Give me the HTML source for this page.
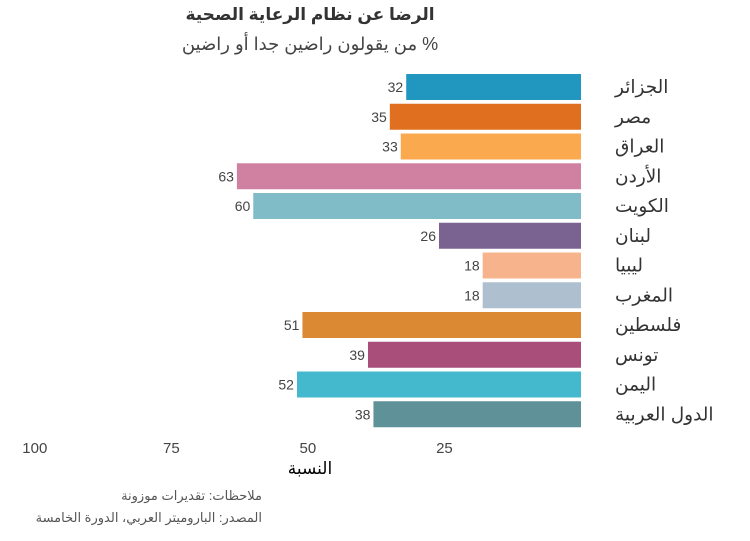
<!DOCTYPE html>
<html><head><meta charset="utf-8"><style>
body{margin:0;background:#fff;width:750px;height:536px;overflow:hidden;font-family:"Liberation Sans","DejaVu Sans",sans-serif}
</style></head><body>
<svg width="750" height="536" id="c">
<text x="310" y="20" text-anchor="middle" font-size="17" font-weight="bold" fill="#333" direction="rtl">الرضا عن نظام الرعاية الصحية</text>
<text x="310" y="50" text-anchor="middle" font-size="18" fill="#444" direction="rtl">% من يقولون راضين جدا أو راضين</text>
<text x="310" y="474" text-anchor="middle" font-size="17" fill="#000">النسبة</text>
<text x="262" y="500" text-anchor="start" font-size="13" fill="#555" direction="rtl">ملاحظات: تقديرات موزونة</text>
<text x="262" y="522" text-anchor="start" font-size="13" fill="#555" direction="rtl">المصدر: الباروميتر العربي، الدورة الخامسة</text>
<g id="g"></g>
</svg>
<script>
const categories=["الجزائر","مصر","العراق","الأردن","الكويت","لبنان","ليبيا","المغرب","فلسطين","تونس","اليمن","الدول العربية"];
const values=[32,35,33,63,60,26,18,18,51,39,52,38];
const colors=["#2196BE","#E07020","#FBA94F","#D080A0","#7FBCC8","#7B6391","#F7B48C","#AEC0CF","#DB8A33","#A94D7B","#44B8CC","#5F9198"];
const ticks=[25,50,75,100];
const NS="http://www.w3.org/2000/svg";
const g=document.getElementById('g');
const x=v=>581-v*5.462;
const y=i=>87+i*29.75;
function mk(t,a){const e=document.createElementNS(NS,t);for(const k in a)e.setAttribute(k,a[k]);g.appendChild(e);return e;}
ticks.forEach(t=>{
const e=mk('text',{x:x(t),y:453,'text-anchor':'middle','font-size':15,fill:'#444'});
e.textContent=t;


});
categories.forEach((c,i)=>{
const r=mk('rect',{x:x(values[i]),y:y(i)-13,width:581-x(values[i]),height:26,fill:colors[i]});


const v=mk('text',{x:x(values[i])-3,y:y(i)+5,'text-anchor':'end','font-size':14,fill:'#444'});
v.textContent=values[i];


const l=mk('text',{x:615,y:y(i)+6,'text-anchor':'end','font-size':18.5,fill:'#333',direction:'rtl'});
l.textContent=c;


});
</script>
</body></html>
